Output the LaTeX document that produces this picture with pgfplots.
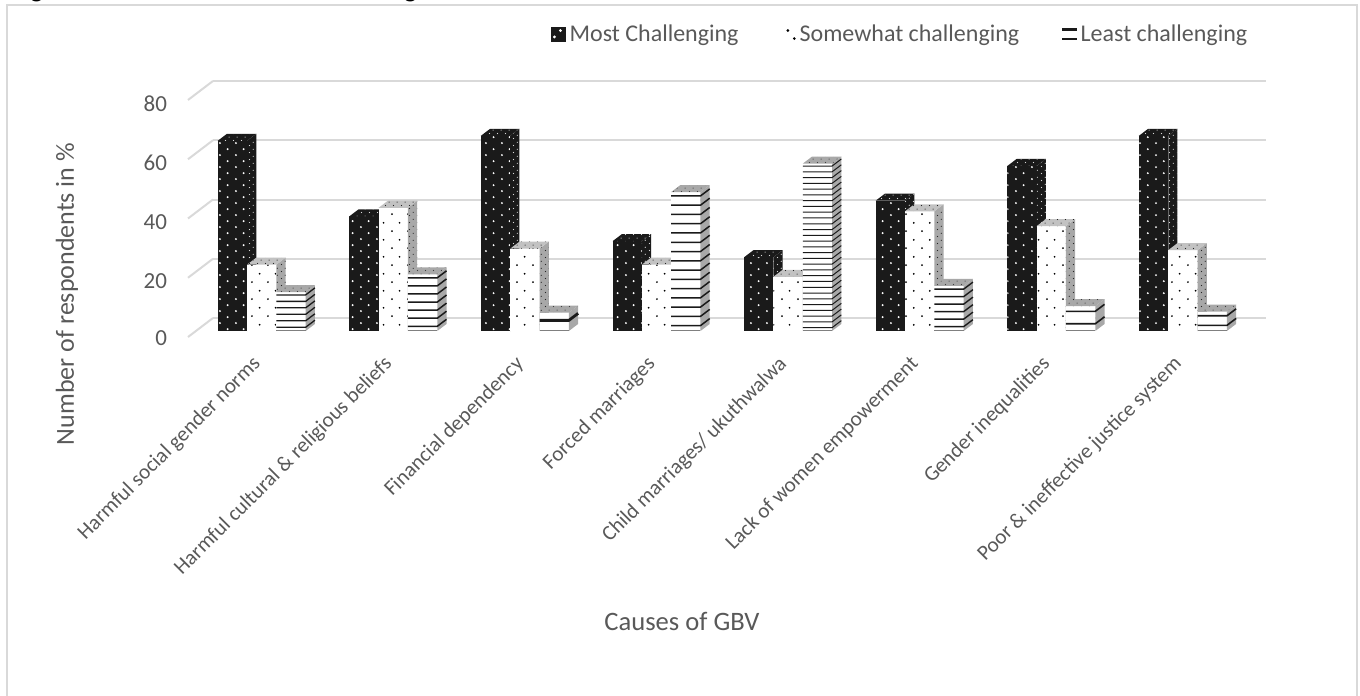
\documentclass[border=0pt]{standalone}
\usepackage{fontspec}
\setmainfont{Carlito}
\usepackage{pgfplots}
\usepackage{pgfplotstable}
\pgfplotsset{compat=1.18}
\usetikzlibrary{patterns}

\definecolor{txt}{HTML}{595959}
\definecolor{rule}{HTML}{D9D9D9}
\definecolor{ink}{HTML}{1A1A1A}
\definecolor{sidegrey}{HTML}{A8A8A8}
\definecolor{topgrey}{HTML}{C2C2C2}

% Staggered dot textures (one picture pixel is 0.5pt)
\pgfdeclarepatternformonly{dotsdense}{\pgfpointorigin}{\pgfpoint{7.8pt}{6.2pt}}{\pgfpoint{7.8pt}{6.2pt}}{%
  \pgfpathcircle{\pgfpoint{1pt}{1pt}}{0.55pt}%
  \pgfpathcircle{\pgfpoint{4.9pt}{4.1pt}}{0.55pt}%
  \pgfusepath{fill}}
\pgfdeclarepatternformonly{dotswide}{\pgfpointorigin}{\pgfpoint{7.8pt}{8.6pt}}{\pgfpoint{7.8pt}{8.6pt}}{%
  \pgfpathcircle{\pgfpoint{1pt}{1pt}}{0.5pt}%
  \pgfpathcircle{\pgfpoint{4.9pt}{5.3pt}}{0.5pt}%
  \pgfusepath{fill}}
\pgfdeclarepatternformonly{dotsfine}{\pgfpointorigin}{\pgfpoint{4pt}{3.6pt}}{\pgfpoint{4pt}{3.6pt}}{%
  \pgfpathcircle{\pgfpoint{0.8pt}{0.8pt}}{0.32pt}%
  \pgfpathcircle{\pgfpoint{2.8pt}{2.6pt}}{0.32pt}%
  \pgfusepath{fill}}

% Cause, then share of respondents for each rating and the number of stripes on the third bar
\pgfplotstableread{
idx most some least stripes weight
0   64.2 22.4 13.1  6   0.65
1   38.7 41.6 19.1  7   0.75
2   65.9 27.8  6.2  1   1.4
3   30.3 22.4 46.9 15   0.75
4   24.9 18.3 56.5 29   0.5
5   44.0 40.4 15.2  6   0.7
6   55.7 35.4  8.4  2   0.8
7   65.9 27.3  6.5  2   0.8
}\causes

\def\dfront{0.316}
\def\dback{0.685}
\def\barw{0.2228}

% One face of a box: colour, texture colour, texture, then its four corners
\newcommand{\face}[6]{%
  \addplot3[forget plot,draw=none,fill=#1] coordinates {#3 #4 #5 #6} --cycle;
  \addplot3[forget plot,draw=none,pattern=#2] coordinates {#3 #4 #5 #6} --cycle;
}
% Box with a dotted front: left edge, right edge, height, front colour, dot colour, front texture, side and top colours
\newcommand{\dotbox}[8]{%
  \edef\tmp{\noexpand\face{#4}{#6,pattern color=#5}%
    {(#1,\dfront,0)}{(#2,\dfront,0)}{(#2,\dfront,#3)}{(#1,\dfront,#3)}}\tmp
  \edef\tmp{\noexpand\face{#7}{dotsfine,pattern color=#5!70!gray}%
    {(#2,\dfront,0)}{(#2,\dback,0)}{(#2,\dback,#3)}{(#2,\dfront,#3)}}\tmp
  \edef\tmp{\noexpand\face{#8}{dotsfine,pattern color=#5!70!gray}%
    {(#1,\dfront,#3)}{(#2,\dfront,#3)}{(#2,\dback,#3)}{(#1,\dback,#3)}}\tmp
}
% Striped box: left edge, right edge, height, stripe count, stripe weight
\newcommand{\stripebox}[5]{%
  \edef\tmp{\noexpand\addplot3[forget plot,draw=none,fill=white] coordinates {(#1,\dfront,0) (#2,\dfront,0) (#2,\dfront,#3) (#1,\dfront,#3)} --cycle;}\tmp
  \edef\tmp{\noexpand\addplot3[forget plot,draw=none,fill=sidegrey] coordinates {(#2,\dfront,0) (#2,\dback,0) (#2,\dback,#3) (#2,\dfront,#3)} --cycle;}\tmp
  \edef\tmp{\noexpand\face{sidegrey}{dotsfine,pattern color=black!75}%
    {(#1,\dfront,#3)}{(#2,\dfront,#3)}{(#2,\dback,#3)}{(#1,\dback,#3)}}\tmp
  \edef\tmp{\noexpand\addplot3[forget plot,draw=gray,line width=0.6pt] coordinates {(#1,\dfront,0.2) (#2,\dfront,0.2)};}\tmp
  \pgfplotsforeachungrouped \k in {1,...,#4}{%
    \pgfmathsetmacro\zz{#3*(\k-0.42)/#4}%
    \edef\tmp{\noexpand\addplot3[forget plot,draw=ink,line width=#5pt] coordinates {(#1,\dfront,\zz) (#2,\dfront,\zz) (#2,\dback,\zz)};}\tmp
  }%
}

\begin{document}
\begin{tikzpicture}
\path[use as bounding box] (0,0) rectangle (680pt,-348pt);
% chart frame
\draw[rule,line width=1pt] (3.5pt,-348pt) -- (3.5pt,-2.5pt) -- (678.3pt,-2.5pt) -- (678.3pt,-348pt);

% descenders of the caption line above the frame
\begin{scope}
\clip (0,0) rectangle (680pt,-1.4pt);
\node[anchor=base west,inner sep=0pt,font=\bfseries\fontsize{13}{15}\selectfont] at (6pt,1.3pt) {Figure};
\node[anchor=base west,inner sep=0pt,font=\bfseries\fontsize{13}{15}\selectfont] at (202pt,1.3pt) {g};
\end{scope}

\begin{axis}[
  at={(94pt,-168.5pt)}, anchor=origin,
  x={(65.8pt,0pt)}, y={(12.5pt,9.5pt)}, z={(0pt,1.48125pt)},
  xmin=0, xmax=8, ymin=0, ymax=1, zmin=0, zmax=80,
  clip=false,
  axis line style={draw=none},
  major tick length=0pt,
  ztick={0,20,40,60,80}, ytick=\empty,
  xtick={0.5,1.5,2.5,3.5,4.5,5.5,6.5,7.5},
  xticklabels={Harmful social gender norms,Harmful cultural \& religious beliefs,Financial dependency,Forced marriages,Child marriages/ ukuthwalwa,Lack of women empowerment,Gender inequalities,Poor \& ineffective justice system},
  xticklabel style={font=\fontsize{10.6}{12}\selectfont,text=txt,xshift=-1.5pt,yshift=-8.5pt,rotate=45,anchor=north east,inner sep=0pt},
  zticklabel style={font=\fontsize{11.5}{13}\selectfont,text=txt,xshift=-7pt,yshift=1.5pt,/pgf/number format/assume math mode=true},
  zmajorgrids, major grid style={rule,line width=1pt},
  legend style={at={(axis description cs:0.985,1.03)},anchor=north east,draw=none,fill=none,
    xshift=4pt,yshift=28.5pt,
    legend columns=3,font=\fontsize{12}{14}\selectfont,text=txt,
    /tikz/every even column/.style={column sep=22pt}},
]
\pgfplotstablegetrowsof{\causes}
\pgfplotsforeachungrouped \i in {0,...,7}{%
  \pgfplotstablegetelem{\i}{most}\of\causes \let\vm\pgfplotsretval
  \pgfplotstablegetelem{\i}{some}\of\causes \let\vs\pgfplotsretval
  \pgfplotstablegetelem{\i}{least}\of\causes \let\vl\pgfplotsretval
  \pgfplotstablegetelem{\i}{stripes}\of\causes \let\vn\pgfplotsretval
  \pgfplotstablegetelem{\i}{weight}\of\causes \let\vw\pgfplotsretval
  \pgfmathsetmacro\xa{\i+0.5-1.5*\barw}
  \pgfmathsetmacro\xb{\i+0.5-0.5*\barw}
  \pgfmathsetmacro\xc{\i+0.5+0.5*\barw}
  \pgfmathsetmacro\xd{\i+0.5+1.5*\barw}
  \edef\go{\noexpand\dotbox{\xa}{\xb}{\vm}{ink}{white}{dotsdense}{ink}{ink}}\go
  \edef\go{\noexpand\dotbox{\xb}{\xc}{\vs}{white}{black}{dotswide}{sidegrey}{topgrey}}\go
  \edef\go{\noexpand\stripebox{\xc}{\xd}{\vl}{\vn}{\vw}}\go
}

\addlegendimage{legend image code/.code={
  \fill[ink] (0pt,-3.5pt) rectangle (7pt,3.5pt);
  \fill[white] (4.6pt,2pt) circle (0.5pt) (1.6pt,-1.2pt) circle (0.5pt);}}
\addlegendentry{Most Challenging}
\addlegendimage{legend image code/.code={
  \fill[black] (1.4pt,2pt) circle (0.45pt) (4.6pt,-2pt) circle (0.45pt);}}
\addlegendentry{Somewhat challenging\kern-2.75pt}
\addlegendimage{legend image code/.code={
  \fill[ink] (0pt,2.2pt) rectangle (7pt,3pt) (0pt,-2.6pt) rectangle (7pt,-1.8pt);}}
\addlegendentry{Least challenging}
\end{axis}

\node[rotate=90,text=txt,font=\fontsize{13}{15}\selectfont] at (33.5pt,-147pt) {Number of respondents in \%};
\node[text=txt,font=\fontsize{13.3}{15}\selectfont] at (341pt,-310.5pt) {Causes of GBV};
\end{tikzpicture}
\end{document}
